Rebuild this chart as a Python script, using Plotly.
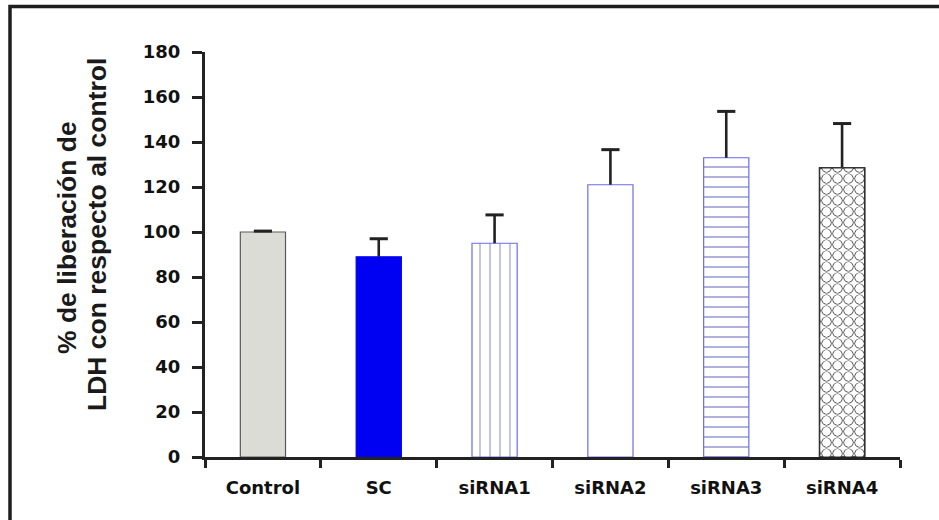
import plotly.graph_objects as go

categories = ["Control", "SC", "siRNA1", "siRNA2", "siRNA3", "siRNA4"]
means = [100, 89, 95, 121, 133, 128.5]
errors = [0.4, 8, 12.6, 15.6, 20.6, 19.7]
y_ticks = [0, 20, 40, 60, 80, 100, 120, 140, 160, 180]
y_title_1 = "% de liberación de"
y_title_2 = "LDH con respecto al control"

fill_colors = ["#dcdcd7", "#0000f2", "white", "white", "white", "white"]
line_colors = ["#5a5a5a", "#0000f2", "#6b6bf0", "#6b6bf0", "#6b6bf0", "#333333"]
pat_shapes = ["", "", "|", "", "-", ""]
pat_fg = ["#888888", "#0000f2", "#8a8ad0", "#6b6bf0", "#7c7cc8", "#2a2a2a"]
pat_size = [10, 10, 10, 10, 10, 11]
pat_sol = [0.1, 0.1, 0.1, 0.1, 0.12, 0.78]

L, R, T, B = 205, 39, 52, 63
W, H = 939, 520
pw, ph = W - L - R, H - T - B


def px_x(x):
    return (x - L) / pw


def px_y(y):
    return (H - B - y) / ph


fig = go.Figure()
for i, cat in enumerate(categories):
    marker = dict(color=fill_colors[i], line=dict(color=line_colors[i], width=1.2))
    if pat_shapes[i]:
        marker["pattern"] = dict(shape=pat_shapes[i], fgcolor=pat_fg[i], bgcolor="white",
                                 size=pat_size[i], solidity=pat_sol[i], fillmode="replace",
                                 fgopacity=1)
    fig.add_trace(go.Bar(
        x=[cat], y=[means[i]], width=0.39, marker=marker,
        error_y=dict(type="data", symmetric=False, array=[errors[i]],
                     arrayminus=[0], width=0, thickness=2.6, color="#222222"),
        showlegend=False, hoverinfo="skip"))
# circle texture of siRNA4: dark discs, then white discs inside them
for fg, sol in [("#2a2a2a", 0.68), ("white", 0.50)]:
    fig.add_trace(go.Bar(
        x=[categories[5]], y=[means[5]], width=0.39,
        marker=dict(color="rgba(255,255,255,0)", line=dict(color="#333333", width=1.2),
                    pattern=dict(shape=".", fgcolor=fg, bgcolor="rgba(255,255,255,0)",
                                 size=11, solidity=sol, fillmode="replace", fgopacity=1)),
        showlegend=False, hoverinfo="skip"))
# error bar caps
fig.add_trace(go.Scatter(
    x=categories, y=[m + e for m, e in zip(means, errors)], mode="markers",
    marker=dict(symbol="line-ew", size=13, line=dict(color="#222222", width=3)),
    showlegend=False, hoverinfo="skip"))

tickfont = dict(family="DejaVu Sans", size=18, color="#111111", weight="bold")
titlefont = dict(family="Liberation Sans, Arial", size=26.5, color="#1a1a1a", weight="bold")
fig.update_layout(
    width=W, height=H, margin=dict(l=L, r=R, t=T, b=B, autoexpand=False),
    paper_bgcolor="white", plot_bgcolor="white", barmode="overlay",
    xaxis=dict(type="category", range=[-0.5, 5.5], showgrid=False, showline=True,
               linecolor="#222222", linewidth=3, ticks="outside", tickson="boundaries",
               ticklen=8, tickwidth=3, tickcolor="#222222", tickfont=tickfont,
               ticklabelstandoff=12, zeroline=False),
    yaxis=dict(range=[0, 180], tickvals=y_ticks, showgrid=False, showline=True,
               linecolor="#222222", linewidth=3, ticks="outside", ticklen=10,
               tickwidth=3, tickcolor="#222222", tickfont=tickfont,
               ticklabelstandoff=8, zeroline=False),
    shapes=[dict(type="path", xref="paper", yref="paper",
                 path=f"M {px_x(10)} {px_y(540)} L {px_x(10)} {px_y(6.5)} L {px_x(960)} {px_y(6.5)}",
                 line=dict(color="#1e1e1e", width=3.5))],
    annotations=[
        dict(text=y_title_1, x=px_x(67), y=px_y(238), xref="paper", yref="paper",
             textangle=-90, showarrow=False, xanchor="center", yanchor="middle",
             font=titlefont),
        dict(text=y_title_2, x=px_x(97), y=px_y(235), xref="paper", yref="paper",
             textangle=-90, showarrow=False, xanchor="center", yanchor="middle",
             font=titlefont),
    ],
)
fig.write_html("out.html")
